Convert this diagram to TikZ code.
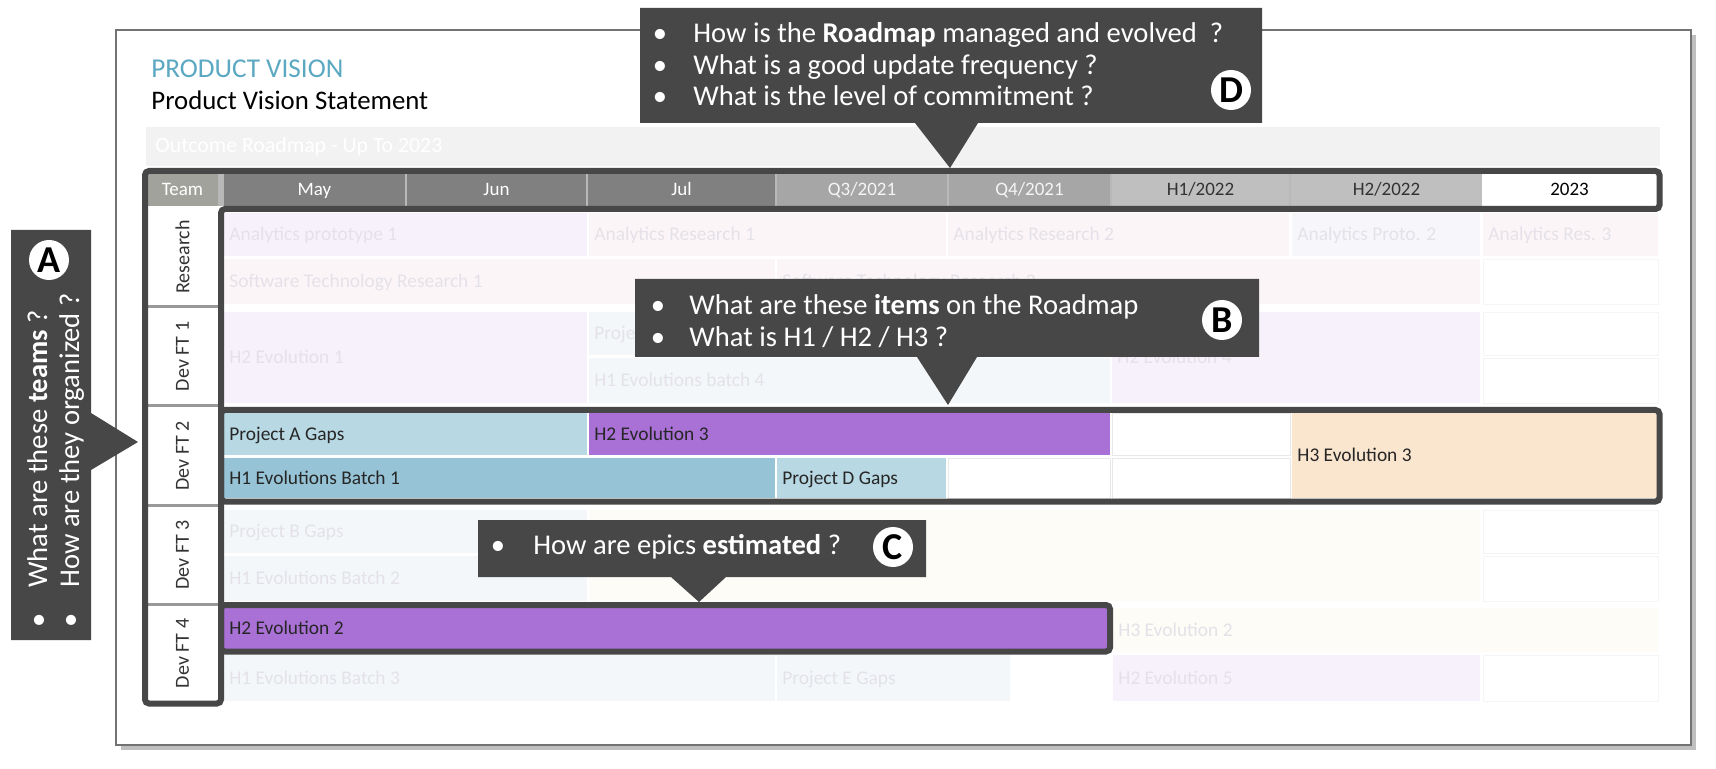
\documentclass[tikz,border=0pt]{standalone}
\usepackage{fontspec}
\setmainfont{Carlito}

\definecolor{calloutgrey}{HTML}{474747}
\definecolor{framegrey}{HTML}{474747}
\definecolor{teamgrey}{HTML}{A2A29D}
\definecolor{monthgrey}{HTML}{808080}
\definecolor{quartergrey}{HTML}{A6A6A6}
\definecolor{halfgrey}{HTML}{BFBFBF}
\definecolor{visionblue}{HTML}{5BA8C2}
\definecolor{epicpurple}{HTML}{A970D6}
\definecolor{gapblue}{HTML}{B8D8E3}
\definecolor{batchblue}{HTML}{96C3D5}
\definecolor{hthreepeach}{HTML}{FAE5CF}
\definecolor{fadelilac}{HTML}{F6F1FA}
\definecolor{fadeslate}{HTML}{F7F7FB}
\definecolor{fadepink}{HTML}{FCF5F8}
\definecolor{fadeblue}{HTML}{F3F7FA}
\definecolor{fadecream}{HTML}{FDFCF7}
\definecolor{fadeword}{HTML}{E4E2E8}
\definecolor{bandgrey}{HTML}{F2F2F2}

\tikzset{
  callouttext/.style={text=white, inner sep=0pt, font=\fontsize{14.3}{17}\selectfont},
  badge/.style={circle, fill=white, inner sep=0pt, minimum size=20pt, font=\bfseries\fontsize{19}{19}\selectfont},
  celltext/.style={inner sep=0pt, text=black!85, font=\fontsize{9.7}{11}\selectfont},
  fadedtext/.style={celltext, text=fadeword},
  headtext/.style={inner sep=0pt, font=\fontsize{9.5}{11}\selectfont},
  teamtext/.style={inner sep=0pt, text=black!80, rotate=90, font=\fontsize{10}{12}\selectfont},
  roadframe/.style={draw=framegrey, line width=3pt},
  calloutbox/.style={fill=calloutgrey},
}

\begin{document}
\begin{tikzpicture}[x=0.5pt, y=-0.5pt]
		\useasboundingbox (0,0) rectangle (1716,769);
		\fill[white] (0,0) rectangle (1716,769);
		% card
		\fill[black!25] (121,35) rectangle (1696,750);
		\draw[black!55, line width=0.8pt, fill=white] (116,30) rectangle (1691,745);
		\node[anchor=base west, inner sep=0pt, text=visionblue, font=\fontsize{13.6}{16}\selectfont] (vision) at (151,78) {PRODUCT VISION};
		\node[anchor=base west, inner sep=0pt, font=\fontsize{13.4}{16}\selectfont] (statement) at (151,110) {Product Vision Statement};
		\fill[bandgrey] (146,127) rectangle (1660,166);
		\node[anchor=west, inner sep=0pt, text=white, font=\fontsize{10.9}{13}\selectfont] (outcome) at (155,147) {Outcome Roadmap - Up To 2023};
		%
		\foreach \nm/\xa/\ya/\xb/\yb/\cellcol/\txt in {
			ap1/224/213/587/256/fadelilac/Analytics prototype 1,
			ar1/589/213/946/256/fadepink/Analytics Research 1,
			ar2/948/213/1289/256/fadepink/Analytics Research 2,
			apr2/1292/213/1480/256/fadeslate/Analytics Proto. 2,
			ars3/1483/213/1658/256/fadepink/Analytics Res. 3,
			str1/224/259/775/304/fadepink/Software Technology Research 1,
			str2/777/259/1480/304/fadepink/Software Technology Research 2,
			h2e1/224/312/587/403/fadelilac/H2 Evolution 1,
			pjc/589/312/1110/355/fadeblue/Project C Gaps,
			h1b4/589/358/1110/403/fadeblue/H1 Evolutions batch 4,
			h2e4/1112/312/1480/403/fadelilac/H2 Evolution 4,
			pjb/224/510/587/553/fadeblue/Project B Gaps,
			h1b2/224/556/587/601/fadeblue/H1 Evolutions Batch 2,
			h3e2/1113/608/1658/652/fadecream/H3 Evolution 2,
			h1b3/224/655/775/701/fadeblue/H1 Evolutions Batch 3,
			pje/777/655/1010/701/fadeblue/Project E Gaps,
			h2e5/1113/655/1480/701/fadelilac/H2 Evolution 5}{
			\fill[\cellcol] (\xa,\ya) rectangle (\xb,\yb);
			\node[fadedtext, anchor=base west] (\nm) at (\xa+5,{(\ya+\yb)/2+6}) {\txt};
		}
		\fill[fadecream] (589,510) rectangle (1480,601);
		\foreach \xa/\ya/\xb/\yb in {1483/259/1658/304, 1483/312/1658/355, 1483/358/1658/403,
			1483/510/1658/553, 1483/556/1658/601, 1483/655/1658/701}
			\draw[black!4, fill=white] (\xa,\ya) rectangle (\xb,\yb);
		\foreach \xa/\ya/\xb/\yb in {948/458/1110/498, 1112/413/1290/455, 1112/458/1290/498}
			\draw[black!9, fill=white] (\xa,\ya) rectangle (\xb,\yb);
		%
		\foreach \nm/\xa/\ya/\xb/\yb/\cellcol/\txt in {
			pja/224/413/587/455/gapblue/Project A Gaps,
			h2e3/589/413/1110/455/epicpurple/H2 Evolution 3,
			h1b1/224/458/775/498/batchblue/H1 Evolutions Batch 1,
			pjd/777/458/946/498/gapblue/Project D Gaps,
			h3e3/1292/413/1657/498/hthreepeach/H3 Evolution 3,
			h2e2/224/608/1107/649/epicpurple/H2 Evolution 2}{
			\fill[\cellcol] (\xa,\ya) rectangle (\xb,\yb);
			\node[celltext, anchor=base west] (\nm) at (\xa+5,{(\ya+\yb)/2+6}) {\txt};
		}
		%
		\fill[black!28] (218,174) rectangle (1482,206);
		\foreach \nm/\xa/\xb/\cellcol/\txtcol/\txt in {
			team/147/218/teamgrey/white/Team,
			may/224/405/monthgrey/white/May,
			jun/407/586/monthgrey/white/Jun,
			jul/588/775/monthgrey/white/Jul,
			qthree/777/947/quartergrey/black!4/{Q3/2021},
			qfour/949/1110/quartergrey/black!4/{Q4/2021},
			hone/1112/1289/halfgrey/black!80/{H1/2022},
			htwo/1291/1482/halfgrey/black!80/{H2/2022},
			year/1482/1657/white/black/2023}{
			\fill[\cellcol] (\xa,174) rectangle (\xb,206);
			\node[headtext, text=\txtcol, anchor=base] (\nm) at ({(\xa+\xb)/2},196) {\txt};
		}
		%
		\foreach \nm/\ya/\yb/\txt in {research/208/306/Research, devfta/308/405/Dev FT 1,
			devftb/408/504/Dev FT 2, devftc/507/603/Dev FT 3, devftd/606/701/Dev FT 4}
			\node[teamtext] (\nm) at (182.5,{(\ya+\yb)/2}) {\txt};
		\foreach \ys in {307,406,505,604}
			\draw[black!40, line width=1.5pt] (147,\ys) -- (218,\ys);
		%
		\draw[roadframe, rounded corners=2pt] (221,209) -- (1659.5,209) -- (1659.5,171) -- (145,171) -- (145,703.5) -- (221,703.5) -- cycle;
		\draw[roadframe, rounded corners=2pt] (221,410) rectangle (1659.5,501.5);
		\draw[roadframe, rounded corners=2pt] (221,605) rectangle (1110,651.5);
		%
		% D
		\fill[calloutbox] (640,8) -- (1262,8) -- (1262,123) -- (978,123) -- (950,168) -- (915,123) -- (640,123) -- cycle;
		\node[callouttext, anchor=base] (dbul1) at (660,43) {•};
		\node[callouttext, anchor=base] (dbul2) at (660,75) {•};
		\node[callouttext, anchor=base] (dbul3) at (660,106) {•};
		\node[callouttext, anchor=base west] (dline1) at (693,43) {How is the \textbf{Roadmap} managed and evolved\ \ ?};
		\node[callouttext, anchor=base west] (dline2) at (693,75) {What is a good update frequency ?};
		\node[callouttext, anchor=base west] (dline3) at (693,106) {What is the level of commitment ?};
		\node[badge] (dmark) at (1231,90) {D};
		% B
		\fill[calloutbox] (635,279) -- (1259,279) -- (1259,357) -- (977,357) -- (948,405) -- (917,357) -- (635,357) -- cycle;
		\node[callouttext, anchor=base] (bbul1) at (658,315) {•};
		\node[callouttext, anchor=base] (bbul2) at (658,347) {•};
		\node[callouttext, anchor=base west] (bline1) at (689,315) {What are these \textbf{items} on the Roadmap};
		\node[callouttext, anchor=base west] (bline2) at (689,347) {What is H1 / H2 / H3 ?};
		\node[badge] (bmark) at (1222,320) {B};
		% C
		\fill[calloutbox] (478,520) -- (926,520) -- (926,577) -- (726,577) -- (699,602) -- (671,577) -- (478,577) -- cycle;
		\node[callouttext, anchor=base] (cbul1) at (498,554) {•};
		\node[callouttext, anchor=base west] (cline1) at (533,554) {How are epics \textbf{estimated} ?};
		\node[badge] (cmark) at (893,547) {C};
		% A
		\fill[calloutbox] (11,230) -- (91,230) -- (91,413) -- (138,442) -- (91,470) -- (91,640) -- (11,640) -- cycle;
		\node[callouttext, rotate=90, anchor=base] (abul1) at (47,620) {•};
		\node[callouttext, rotate=90, anchor=base] (abul2) at (79,620) {•};
		\node[callouttext, rotate=90, anchor=base west] (aline1) at (47,588) {What are these \textbf{teams} ?};
		\node[callouttext, rotate=90, anchor=base west] (aline2) at (79,588) {How are they organized ?};
		\node[badge] (amark) at (49,260) {A};
	\end{tikzpicture}
\end{document}
